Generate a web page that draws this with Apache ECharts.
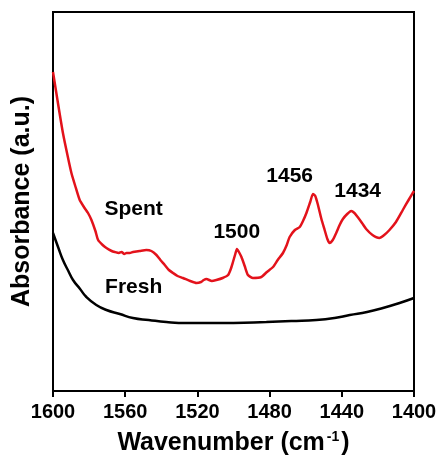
<!DOCTYPE html>
<html>
<head>
<meta charset="utf-8">
<script src="https://cdn.jsdelivr.net/npm/echarts@6/dist/echarts.min.js"></script>
<style>
  html, body { margin: 0; padding: 0; background: #fff; }
  #chart { width: 445px; height: 461px; }
</style>
</head>
<body>
<div id="chart"></div>
<script>
// spectra (wavenumber in cm-1, absorbance in arbitrary units)
var spentWn = [1600, 1597, 1594.5, 1592, 1589.8, 1587.5, 1585.2, 1582.5, 1580.6, 1578.7, 1576.5, 1575, 1572.5, 1570.4, 1567.5, 1565.8, 1563.5, 1562, 1560.5, 1559.3, 1557.5, 1555.7, 1552, 1548.3, 1545.5, 1542.7, 1540.5, 1538.1, 1535.8, 1533.5, 1531, 1528, 1524, 1520.5, 1518, 1516.5, 1515, 1512, 1509.5, 1506, 1503, 1501.5, 1500.3, 1499, 1498.1, 1497, 1495.6, 1493.8, 1492, 1489.2, 1484.6, 1481.5, 1478.1, 1475.5, 1472.6, 1470.5, 1468.9, 1466, 1463.3, 1461.5, 1459.6, 1457.5, 1456, 1454.7, 1453.2, 1451.3, 1449.5, 1448, 1446.8, 1445, 1443.1, 1441.2, 1439.4, 1437, 1434.8, 1433, 1431.2, 1428.8, 1426.5, 1423, 1419.2, 1416.5, 1413.6, 1410, 1406.2, 1403, 1400];
var spentAbs = [319, 285, 258, 236, 218, 204, 191, 183, 178, 171, 160, 151, 146, 143, 140, 139, 138, 139, 137, 138, 138, 139, 140, 141, 140, 136, 131, 126, 121, 118, 115, 113, 110, 108, 109, 111, 112, 110, 111, 113, 116, 122, 129, 137, 142, 139, 134, 125, 116, 113, 114, 119, 124, 131, 138, 146, 154, 161, 164, 170, 178, 189, 197, 195, 186, 172, 161, 152, 148, 151, 158, 166, 172, 177, 180, 178, 174, 168, 162, 156, 153, 156, 161, 169, 181, 191, 200];

var freshWn = [1600, 1597, 1594.5, 1591.5, 1588.9, 1585, 1581.5, 1576, 1570.4, 1563, 1555.7, 1547, 1537.2, 1526, 1515, 1500, 1481.8, 1468, 1454.1, 1444, 1435.6, 1426, 1417.2, 1408, 1400];
var freshAbs = [158, 143, 131, 120, 111, 102, 94, 86, 81, 77, 73, 71, 69, 68, 68, 68, 69, 70, 71, 73, 76, 79, 83, 88, 93];

// text annotations placed in data coordinates
var noteText = ['Spent', 'Fresh', '1500', '1456', '1434'];
var noteWn = [1555.3, 1555.3, 1498.2, 1468.9, 1431.2];
var noteAbs = [182, 104, 159, 215, 200];

var xTicks = [1400, 1440, 1480, 1520, 1560, 1600];

function pairs(xs, ys) {
  return xs.map(function (x, i) { return [x, ys[i]]; });
}

var chart = echarts.init(document.getElementById('chart'), null, { renderer: 'canvas' });
var font = 'Liberation Sans, Arial, sans-serif';

var option = {
  backgroundColor: '#fff',
  animation: false,
  grid: {
    left: 53, right: 31, top: 12, bottom: 70,
    show: true, borderColor: '#000', borderWidth: 2
  },
  xAxis: {
    type: 'value',
    inverse: true,
    min: xTicks[0],
    max: xTicks[xTicks.length - 1],
    interval: 40,
    name: '{t|Wavenumber (cm}{s|-1}{t|)}',
    nameLocation: 'middle',
    nameGap: 39,
    nameTextStyle: {
      rich: {
        t: { fontFamily: font, fontWeight: 'bold', fontSize: 25, color: '#000' },
        s: { fontFamily: font, fontWeight: 'bold', fontSize: 14, color: '#000', padding: [0, 2, 12, 2] }
      }
    },
    axisLine: { show: true, lineStyle: { color: '#000', width: 2 } },
    axisTick: { show: true, length: 6, lineStyle: { color: '#000', width: 2 } },
    axisLabel: {
      margin: 11, fontFamily: font, fontWeight: 'bold', fontSize: 20, color: '#000',
      formatter: function (v) { return String(v); }
    },
    splitLine: { show: false }
  },
  yAxis: {
    type: 'value',
    min: 0,
    max: 379,
    name: 'Absorbance (a.u.)',
    nameLocation: 'middle',
    nameGap: 18,
    nameTextStyle: { fontFamily: font, fontWeight: 'bold', fontSize: 25, color: '#000' },
    axisLine: { show: true, lineStyle: { color: '#000', width: 2 } },
    axisTick: { show: false },
    axisLabel: { show: false },
    splitLine: { show: false }
  },
  series: [
    {
      name: 'Spent',
      type: 'line',
      smooth: 0.2,
      symbol: 'none',
      lineStyle: { color: '#e3121b', width: 2.5 },
      data: pairs(spentWn, spentAbs)
    },
    {
      name: 'Fresh',
      type: 'line',
      smooth: 0.5,
      symbol: 'none',
      lineStyle: { color: '#000', width: 2.5 },
      data: pairs(freshWn, freshAbs)
    },
    {
      name: 'notes',
      type: 'scatter',
      symbolSize: 0,
      silent: true,
      itemStyle: { opacity: 1 },
      label: {
        show: true,
        position: 'inside',
        fontFamily: font,
        fontWeight: 'bold',
        fontSize: 21,
        color: '#000',
        formatter: function (p) { return noteText[p.dataIndex]; }
      },
      data: pairs(noteWn, noteAbs)
    }
  ]
};

chart.setOption(option);
</script>
</body>
</html>
